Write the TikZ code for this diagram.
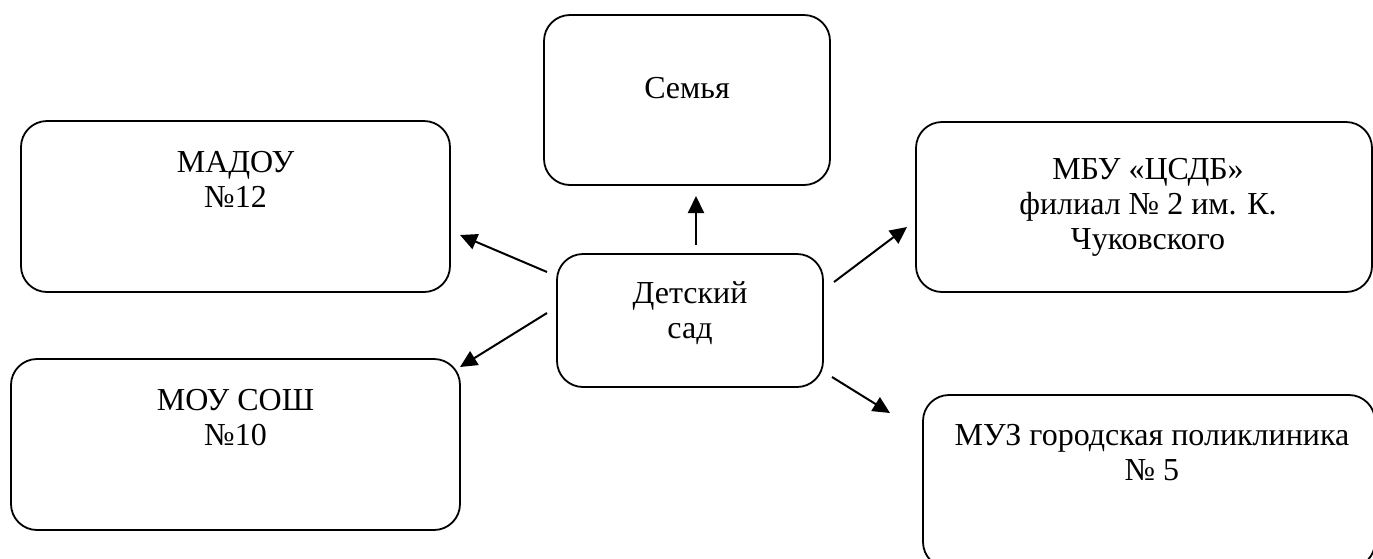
\documentclass[tikz,border=0pt]{standalone}
\usepackage{fontspec}
\setmainfont{Liberation Serif}
\usetikzlibrary{arrows.meta}
\begin{document}
\begin{tikzpicture}[x=1pt,y=-1pt,
  box/.style={draw, line width=1.8pt, rounded corners=26pt, inner sep=0pt, rectangle},
  txt/.style={anchor=base, inner sep=0pt, font=\fontsize{32}{35}\selectfont},
  arr/.style={line width=2pt, -{Triangle[length=17pt,width=16pt]}}]
\useasboundingbox (0,0) rectangle (1373,558);
\clip (0,0) rectangle (1373,558);
% boxes
\node[box, minimum width=286pt, minimum height=170pt] (semya) at (687,100) {};
\node[box, minimum width=429pt, minimum height=171pt] (madou) at (235.5,206.5) {};
\node[box, minimum width=449pt, minimum height=171pt] (mou) at (235.5,444.5) {};
\node[box, minimum width=266pt, minimum height=133pt] (sad) at (690,320.5) {};
\node[box, minimum width=456pt, minimum height=170pt] (mbu) at (1144,207) {};
\node[box, minimum width=452pt, minimum height=173pt] (muz) at (1149,481.5) {};
% texts
\node[txt] (tsemya) at (687,98) {Семья};
\node[txt] (tmadou) at (235.5,172) {\begin{tabular}[t]{@{}c@{}}МАДОУ\\№12\end{tabular}};
\node[txt] (tmou) at (235.5,410) {\begin{tabular}[t]{@{}c@{}}МОУ СОШ\\№10\end{tabular}};
\node[txt] (tsad) at (690,303) {\begin{tabular}[t]{@{}c@{}}Детский\\сад\end{tabular}};
\node[txt] (tmbu) at (1148,179) {\begin{tabular}[t]{@{}c@{}}МБУ «ЦСДБ»\\филиал № 2 им. К.\\Чуковского\end{tabular}};
\node[txt] (tmuz) at (1152,445) {\begin{tabular}[t]{@{}c@{}}МУЗ городская поликлиника\\№ 5\end{tabular}};
% arrow end points
\coordinate (a1s) at (696,245); \coordinate (a1e) at (696,196);
\coordinate (a2s) at (547,272); \coordinate (a2e) at (460,235);
\coordinate (a3s) at (547,313); \coordinate (a3e) at (460,367);
\coordinate (a4s) at (834,282); \coordinate (a4e) at (907,227);
\coordinate (a5s) at (832,377); \coordinate (a5e) at (890,413);
\draw[arr] (a1s) -- (a1e);
\draw[arr] (a2s) -- (a2e);
\draw[arr] (a3s) -- (a3e);
\draw[arr] (a4s) -- (a4e);
\draw[arr] (a5s) -- (a5e);
\end{tikzpicture}
\end{document}
